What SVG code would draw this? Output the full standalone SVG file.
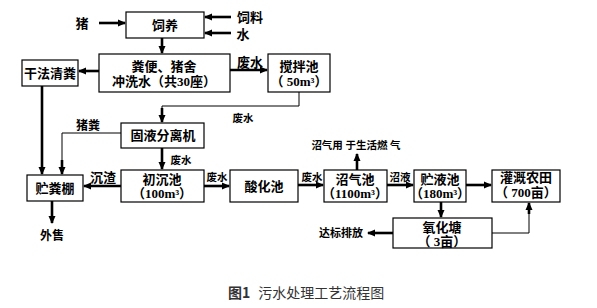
<svg xmlns="http://www.w3.org/2000/svg" width="597" height="308" viewBox="0 0 597 308">
<style>
.box{fill:#fff;stroke:#000;stroke-width:1.2}
.t{font-family:"Liberation Serif","Noto Sans CJK SC",serif;font-weight:bold;font-size:13px;text-anchor:middle;fill:#000}
.s{font-size:10.5px}
.th{fill:none;stroke:#000;stroke-width:2.6}
.tn{fill:none;stroke:#000;stroke-width:1}
.cap{font-family:"Noto Sans CJK SC",sans-serif;font-size:14px;fill:#333}
</style>
<defs>
<marker id="a" markerUnits="userSpaceOnUse" markerWidth="8" markerHeight="8" refX="7" refY="4" orient="auto">
<path d="M0,0.5 L8,4 L0,7.5 Z" fill="#000"/>
</marker>
</defs>
<rect width="597" height="308" fill="#fff"/>
<g id="connectors">
<line class="th" x1="99" y1="23" x2="125" y2="23" marker-end="url(#a)"/>
<line class="th" x1="231" y1="17" x2="205" y2="17" marker-end="url(#a)"/>
<line class="th" x1="231" y1="33" x2="205" y2="33" marker-end="url(#a)"/>
<line class="th" x1="162" y1="38" x2="162" y2="53" marker-end="url(#a)"/>
<line class="th" x1="99" y1="71" x2="79" y2="71" marker-end="url(#a)"/>
<line class="th" x1="230" y1="70" x2="267" y2="70" marker-end="url(#a)"/>
<polyline class="tn" points="299,92 299,106 162,106 162,114"/>
<line class="th" x1="162" y1="108" x2="162" y2="122" marker-end="url(#a)"/>
<polyline class="tn" points="121,133 62,133 62,168"/>
<line class="th" x1="62" y1="160" x2="62" y2="174" marker-end="url(#a)"/>
<line class="th" x1="42" y1="86" x2="42" y2="174" marker-end="url(#a)"/>
<line class="th" x1="162" y1="148" x2="162" y2="169" marker-end="url(#a)"/>
<line class="th" x1="121" y1="186" x2="84" y2="186" marker-end="url(#a)"/>
<line class="th" x1="52" y1="201" x2="52" y2="223" marker-end="url(#a)"/>
<line class="th" x1="204" y1="186" x2="229" y2="186" marker-end="url(#a)"/>
<line class="th" x1="298" y1="185" x2="323" y2="185" marker-end="url(#a)"/>
<line class="th" x1="357" y1="170" x2="357" y2="154" marker-end="url(#a)"/>
<line class="th" x1="387" y1="185" x2="413" y2="185" marker-end="url(#a)"/>
<line class="th" x1="466" y1="185" x2="491" y2="185" marker-end="url(#a)"/>
<line class="th" x1="441" y1="202" x2="441" y2="217" marker-end="url(#a)"/>
<polyline class="tn" points="492,233 529,233 529,212"/>
<line class="th" x1="529" y1="214" x2="529" y2="203" marker-end="url(#a)"/>
<line class="th" x1="393" y1="233" x2="368" y2="233" marker-end="url(#a)"/>
</g>
<g id="labels">
<text class="t" x="82" y="28">猪</text>
<text class="t" x="250" y="22">饲料</text>
<text class="t" x="243" y="39">水</text>
<text class="t" x="250" y="67">废水</text>
<text class="t s" x="243" y="122">废水</text>
<text class="t" x="88" y="130" style="font-size:12px">猪粪</text>
<text class="t s" x="181" y="164">废水</text>
<text class="t" x="103" y="182">沉渣</text>
<text class="t" x="52" y="240" style="font-size:12px">外售</text>
<text class="t s" x="217" y="181">废水</text>
<text class="t s" x="312" y="181">废水</text>
<text class="t s" x="356" y="149">沼气用 于生活燃 气</text>
<text class="t s" x="400" y="181">沼液</text>
<text class="t" x="341" y="237" style="font-size:11px">达标排放</text>
</g>
<g id="n-siyang"><rect class="box" x="126" y="12" width="78" height="26"/><text class="t" x="165" y="30">饲养</text></g>
<g id="n-chongxi"><rect class="box" x="99" y="54" width="131" height="38"/><text class="t" x="164" y="71">粪便、猪舍</text><text class="t" x="164" y="86">冲洗水（共30座）</text></g>
<g id="n-ganfa"><rect class="box" x="22" y="60" width="56" height="26"/><text class="t" x="50" y="78">干法清粪</text></g>
<g id="n-jiaoban"><rect class="box" x="268" y="54" width="62" height="38"/><text class="t" x="299" y="71">搅拌池</text><text class="t" x="299" y="86">（ 50m³）</text></g>
<g id="n-guye"><rect class="box" x="121" y="123" width="83" height="25"/><text class="t" x="163" y="140">固液分离机</text></g>
<g id="n-zhufen"><rect class="box" x="27" y="175" width="56" height="26"/><text class="t" x="55" y="193">贮粪棚</text></g>
<g id="n-chuchen"><rect class="box" x="121" y="170" width="83" height="32"/><text class="t" x="162" y="184">初沉池</text><text class="t" x="162" y="198">（100m³）</text></g>
<g id="n-suanhua"><rect class="box" x="230" y="170" width="68" height="32"/><text class="t" x="264" y="191">酸化池</text></g>
<g id="n-zhaoqi"><rect class="box" x="324" y="170" width="63" height="32"/><text class="t" x="355" y="184">沼气池</text><text class="t" x="355" y="198">（1100m³）</text></g>
<g id="n-zhuye"><rect class="box" x="414" y="170" width="52" height="32"/><text class="t" x="440" y="184">贮液池</text><text class="t" x="440" y="198">（180m³）</text></g>
<g id="n-guangai"><rect class="box" x="492" y="170" width="68" height="32"/><text class="t" x="526" y="182">灌溉农田</text><text class="t" x="526" y="197">（ 700亩）</text></g>
<g id="n-yanghua"><rect class="box" x="393" y="218" width="99" height="30"/><text class="t" x="442" y="232">氧化塘</text><text class="t" x="442" y="246">（ 3亩）</text></g>
<text class="cap" x="228" y="298"><tspan font-weight="bold">图1</tspan><tspan dx="8">污水处理工艺流程图</tspan></text>
</svg>
